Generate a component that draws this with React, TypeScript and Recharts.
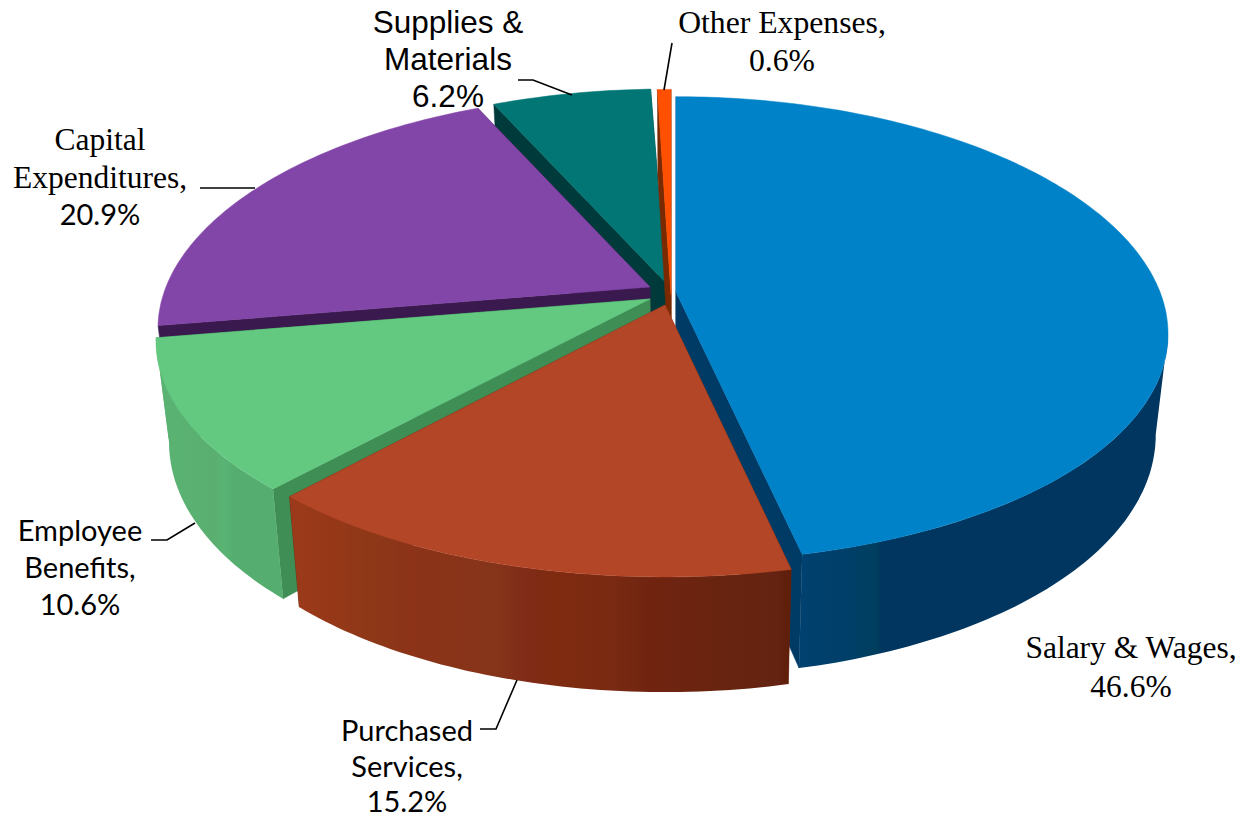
import React from 'react';
import { PieChart, Pie } from 'recharts';

const CATEGORIES = ['Salary & Wages', 'Purchased Services', 'Employee Benefits', 'Capital Expenditures', 'Supplies & Materials', 'Other Expenses'];
const VALUES = [46.6, 15.2, 10.6, 20.9, 6.2, 0.6];
const LABEL_LINES = [
  ['Salary & Wages,'],
  ['Purchased', 'Services,'],
  ['Employee', 'Benefits,'],
  ['Capital', 'Expenditures,'],
  ['Supplies &', 'Materials'],
  ['Other Expenses,'],
];

const chartData = CATEGORIES.map((name, i) => ({ name, value: VALUES[i], lines: LABEL_LINES[i] }));

// back to front, the pie is painted one slice per layer
const PAINT_ORDER = ['Supplies & Materials', 'Other Expenses', 'Capital Expenditures', 'Employee Benefits', 'Salary & Wages', 'Purchased Services'];

const WIDTH = 1242;
const HEIGHT = 818;
const CX = 676;
const CY = 292;
const RADIUS = 484;
const FLATTEN = 0.4649;
const PERSPECTIVE_X = 0.18;
const PERSPECTIVE_Y = 0.16;
const BOTTOM_SHRINK = 0.975;
// outer wall only shows between these angles, clockwise from the top
const WALL_FROM = 100.4;
const WALL_TO = 259.6;

const SERIF = '"Liberation Serif", serif';
const SANS = '"Liberation Sans", sans-serif';
const CALIBRI = 'Lato, sans-serif';

type SliceStyle = {
  dx: number;
  dy: number;
  sx: number;
  sy: number;
  top: string;
  wall: string;
  bands: [number, string][];
};

const SLICE_STYLES: Record<string, SliceStyle> = {
  'Salary & Wages': {
    dx: 0, dy: 0, sx: 1, sy: 1.007, top: '#0082c8', wall: '#003b66',
    bands: [[795, '#004170'], [850, '#003f68'], [876, '#003f5e'], [882, '#003660'], [1170, '#003660']],
  },
  'Purchased Services': {
    dx: -11, dy: 13, sx: 1, sy: 1.015, top: '#b34626', wall: '#6a2410',
    bands: [[300, '#9a3a1a'], [330, '#963818'], [375, '#8d3818'], [410, '#8c3318'], [500, '#85341a'], [525, '#7f2b18'], [550, '#7f2b10'], [610, '#7a2a12'], [650, '#702410'], [745, '#662410'], [778, '#642212'], [786, '#5f1f0a']],
  },
  'Employee Benefits': {
    dx: -26, dy: 7, sx: 1.004, sy: 1.005, top: '#63c981', wall: '#3f8e55',
    bands: [[160, '#5ab373'], [215, '#5aaf70'], [225, '#58b474'], [235, '#55ad70'], [283, '#55ad70']],
  },
  'Capital Expenditures': {
    dx: -26, dy: -5, sx: 1, sy: 1, top: '#8245a8', wall: '#3a1a4e',
    bands: [[0, '#3a1a4e'], [1242, '#3a1a4e']],
  },
  'Supplies & Materials': {
    dx: -10, dy: -9, sx: 1, sy: 1, top: '#017674', wall: '#003a3a',
    bands: [[0, '#003a3a'], [1242, '#003a3a']],
  },
  'Other Expenses': {
    dx: -5, dy: 3, sx: 0.88, sy: 1.06, top: '#ff4f00', wall: '#7a2a00',
    bands: [[0, '#7a2a00'], [1242, '#7a2a00']],
  },
};

type LabelStyle = { x: number; y: number[]; fonts: string[]; size: number[]; leader: number[][] };

const LABEL_STYLES: Record<string, LabelStyle> = {
  'Salary & Wages': { x: 1131, y: [658, 697], fonts: [SERIF, SERIF], size: [31.5, 31.5], leader: [] },
  'Purchased Services': { x: 407, y: [741, 777, 812], fonts: [CALIBRI, CALIBRI, CALIBRI], size: [29, 29, 29], leader: [[480, 729], [496, 729], [517, 680]] },
  'Employee Benefits': { x: 80, y: [541, 578, 615], fonts: [CALIBRI, CALIBRI, CALIBRI], size: [29, 29, 29], leader: [[151, 540], [167, 540], [195, 523]] },
  'Capital Expenditures': { x: 100, y: [150, 188, 225], fonts: [SERIF, SERIF, CALIBRI], size: [31.5, 31.5, 29], leader: [[200, 188], [255, 188]] },
  'Supplies & Materials': { x: 448, y: [33, 70, 107], fonts: [SANS, SANS, SANS], size: [31.5, 31.5, 31.5], leader: [[518, 80], [533, 80], [572, 95]] },
  'Other Expenses': { x: 782, y: [33, 71], fonts: [SERIF, SERIF], size: [31.7, 31.7], leader: [[672, 43], [664, 90]] },
};

const depthAt = (y: number) => 110 + (y - 490) * 0.06;

// project a point of the rim on to the tilted plane, theta runs clockwise from the top
const rim = (theta: number, ax: number, ay: number, rx: number, ry: number): [number, number] => {
  const t = (theta * Math.PI) / 180;
  return [
    ax + (rx * Math.sin(t)) / (1 + PERSPECTIVE_X * Math.cos(t)),
    ay - (ry * FLATTEN * Math.cos(t)) / (1 + PERSPECTIVE_Y * Math.cos(t)),
  ];
};

const drop = ([x, y]: [number, number]): [number, number] => [
  CX + (x - CX) * BOTTOM_SHRINK,
  y + depthAt(y),
];

const toPath = (pts: [number, number][]) =>
  pts.map((p, i) => `${i === 0 ? 'M' : 'L'}${p[0].toFixed(1)},${p[1].toFixed(1)}`).join(' ') + ' Z';

const sampleArc = (from: number, to: number, ax: number, ay: number, rx: number, ry: number) => {
  const steps = Math.max(2, Math.ceil(to - from));
  const pts: [number, number][] = [];
  for (let i = 0; i <= steps; i++) {
    pts.push(rim(from + ((to - from) * i) / steps, ax, ay, rx, ry));
  }
  return pts;
};

const Slice3D = (props: any, layer: string) => {
  const name = props.name ?? props.payload?.name;
  if (name !== layer) return <g />;
  const style = SLICE_STYLES[name];
  const ax = props.cx + style.dx;
  const ay = props.cy + style.dy;
  const rx = props.outerRadius * style.sx;
  const ry = props.outerRadius * style.sy;
  const t1 = 90 - props.startAngle;
  const t2 = 90 - props.endAngle;
  const arc = sampleArc(t1, t2, ax, ay, rx, ry);
  const apex: [number, number] = [ax, ay];
  const first = arc[0];
  const last = arc[arc.length - 1];
  const wallFrom = Math.max(t1, WALL_FROM);
  const wallTo = Math.min(t2, WALL_TO);
  const wallArc = wallTo > wallFrom ? sampleArc(wallFrom, wallTo, ax, ay, rx, ry) : [];
  const gradId = `wall-${CATEGORIES.indexOf(name)}`;
  return (
    <g>
      <defs>
        <linearGradient id={gradId} gradientUnits="userSpaceOnUse" x1={0} x2={WIDTH} y1={0} y2={0}>
          {style.bands.map(([x, c]) => (
            <stop key={x} offset={x / WIDTH} stopColor={c} />
          ))}
        </linearGradient>
      </defs>
      <path d={toPath([apex, first, drop(first), drop(apex)])} fill={style.wall} stroke={style.wall} strokeWidth={0.5} />
      <path d={toPath([apex, last, drop(last), drop(apex)])} fill={style.wall} stroke={style.wall} strokeWidth={0.5} />
      {wallArc.length > 0 && <path d={toPath([...wallArc, ...wallArc.map(drop).reverse()])} fill={`url(#${gradId})`} />}
      <path d={toPath([apex, ...arc])} fill={style.top} stroke={style.top} strokeWidth={0.5} />
    </g>
  );
};

const renderLabel = (props: any) => {
  const name = props.name ?? props.payload?.name;
  const style = LABEL_STYLES[name];
  const lines: string[] = [...(props.payload?.lines ?? []), `${props.value}%`];
  return (
    <g key={name}>
      {style.leader.length > 0 && (
        <polyline points={style.leader.map((p) => p.join(',')).join(' ')} fill="none" stroke="#000" strokeWidth={1.6} />
      )}
      {lines.map((text, i) => (
        <text key={i} x={style.x} y={style.y[i]} textAnchor="middle" fontFamily={style.fonts[i]} fontSize={style.size[i]} fill="#000">
          {text}
        </text>
      ))}
    </g>
  );
};

export default function App() {
  return (
    <div style={{ position: 'absolute', left: 0, top: 0, width: WIDTH, height: HEIGHT, background: '#fff' }}>
      <PieChart width={WIDTH} height={HEIGHT} margin={{ top: 0, right: 0, bottom: 0, left: 0 }}>
        {PAINT_ORDER.map((layer, i) => (
          <Pie
            key={layer}
            data={chartData}
            dataKey="value"
            nameKey="name"
            cx={CX}
            cy={CY}
            innerRadius={0}
            outerRadius={RADIUS}
            startAngle={90}
            endAngle={-270}
            isAnimationActive={false}
            stroke="none"
            labelLine={false}
            label={i === PAINT_ORDER.length - 1 ? renderLabel : false}
            shape={(p: any) => Slice3D(p, layer)}
          />
        ))}
      </PieChart>
    </div>
  );
}
